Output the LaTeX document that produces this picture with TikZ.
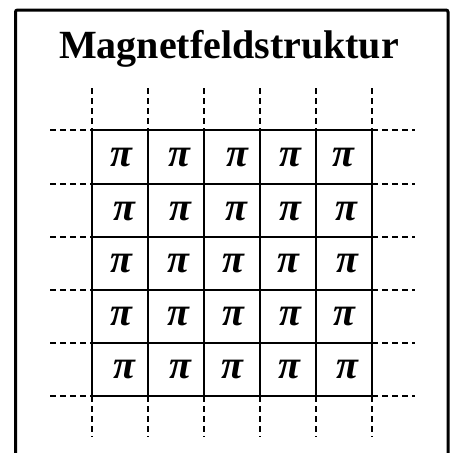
\documentclass[tikz,border=0pt]{standalone}
\usepackage{fontspec}
\setmainfont{Liberation Serif}
\begin{document}
\begin{tikzpicture}[x=1pt,y=-1pt,
  gridline/.style={line width=2.8pt,black},
  dashext/.style={line width=2.6pt,black,dash pattern=on 6pt off 4pt},
  framebox/.style={line width=3pt,black,rounded corners=2pt},
  pisym/.style={inner sep=0pt,font=\fontsize{40}{40}\selectfont\bfseries\itshape},
  titletext/.style={inner sep=0pt,anchor=base,font=\fontsize{40}{40}\selectfont\bfseries}]
\useasboundingbox (0,0) rectangle (456,453);
\draw[framebox] (15.5,470) -- (15.5,10) -- (448,10) -- (448,470);
\node[titletext] (title) at (229,58) {Magnetfeldstruktur};
% grid coordinates
\foreach \i/\x in {0/92,1/148,2/204,3/260,4/316,5/372} {
  \coordinate (vt\i) at (\x,130);
  \coordinate (vb\i) at (\x,396);
  \coordinate (vtd\i) at (\x,88);
  \coordinate (vbd\i) at (\x,437);
}
\foreach \j/\y in {0/130,1/184,2/237,3/290,4/343,5/396} {
  \coordinate (hl\j) at (92,\y);
  \coordinate (hr\j) at (372,\y);
  \coordinate (hld\j) at (50,\y);
  \coordinate (hrd\j) at (415,\y);
}
\foreach \i in {0,...,5} {
  \draw[gridline] (vt\i) -- (vb\i);
  \draw[dashext] (vtd\i) -- (vt\i);
  \draw[dashext] (vb\i) -- (vbd\i);
  \draw[gridline] (hl\i) -- (hr\i);
  \draw[dashext] (hld\i) -- (hl\i);
  \draw[dashext] (hr\i) -- (hrd\i);
}
% pi symbols
\foreach \r/\y/\xa/\xb/\xc/\xd/\xe in {
  1/158/121/179/237/290/343,
  2/212/124/180/236/290/346,
  3/264/121/178/233/288/347,
  4/317/121/178/233/290/344,
  5/370/124/180/232/289/347} {
  \node[pisym] (p\r a) at (\xa,\y) {π};
  \node[pisym] (p\r b) at (\xb,\y) {π};
  \node[pisym] (p\r c) at (\xc,\y) {π};
  \node[pisym] (p\r d) at (\xd,\y) {π};
  \node[pisym] (p\r e) at (\xe,\y) {π};
}
\end{tikzpicture}
\end{document}
